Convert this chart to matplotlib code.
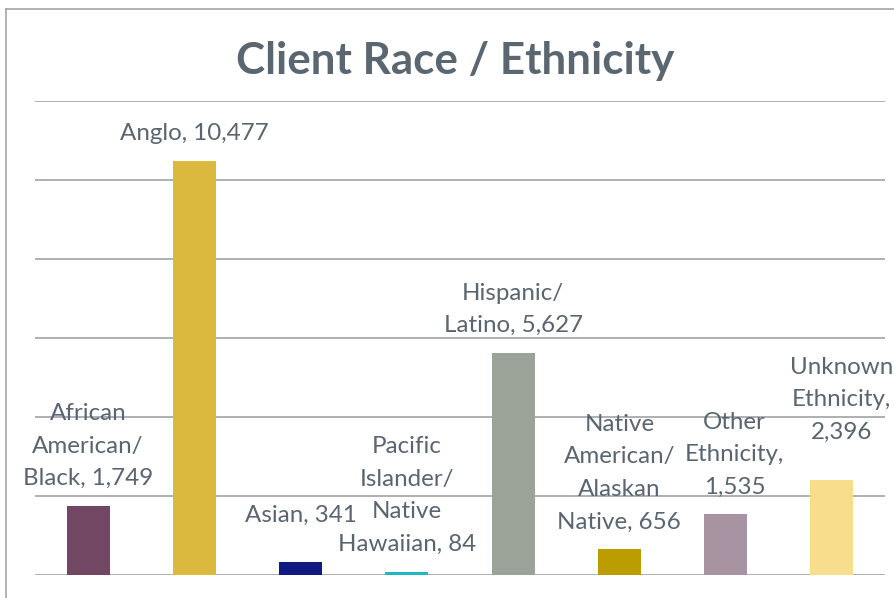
import matplotlib
matplotlib.use("Agg")
import matplotlib.pyplot as plt
from matplotlib.lines import Line2D

# Chart data
categories = [
    "African\nAmerican/\nBlack",
    "Anglo",
    "Asian",
    "Pacific\nIslander/\nNative\nHawaiian",
    "Hispanic/\nLatino",
    "Native\nAmerican/\nAlaskan\nNative",
    "Other\nEthnicity",
    "Unknown\nEthnicity",
]
# how each label joins name and value (Excel wrapped some differently)
label_joins = [", ", ", ", ", ", ", ", ", ", ", ", ",\n", ",\n"]
values = [1749, 10477, 341, 84, 5627, 656, 1535, 2396]
bar_colors = ["#724763", "#dbb93f", "#111a80", "#1fb8c0",
              "#9ba398", "#bc9d00", "#a893a3", "#f8dd8d"]
# label nudges in points (x, y above bar top)
label_dx = [0, 0, 0, 0, 0, 0, 6.5, 7]
label_dy = [12, 12, 26, 12, 12, 12, 12, 27]

text_color = "#5a6570"
grid_color = "#a7a9ac"

plt.rcParams["font.family"] = ["Lato", "DejaVu Sans"]

fig = plt.figure(figsize=(8.95, 5.98), dpi=100)
ax = fig.add_axes([35 / 895, 23 / 598, 850 / 895, 474 / 598])

x = range(len(values))
ax.bar(x, values, width=0.405, color=bar_colors, zorder=3)

ax.set_xlim(-0.5, len(values) - 0.5)
ax.set_ylim(0, 12000)
ax.set_yticks(range(0, 12001, 2000))
ax.set_xticks([])
ax.tick_params(left=False, labelleft=False)
ax.yaxis.grid(True, color=grid_color, linewidth=1.3, zorder=0)
for s in ax.spines.values():
    s.set_visible(False)

for i, (cat, v) in enumerate(zip(categories, values)):
    txt = f"{cat}{label_joins[i]}{v:,}"
    ax.annotate(txt, (i, v), xytext=(label_dx[i], label_dy[i]),
                textcoords="offset points", ha="center", va="bottom",
                fontsize=17.4, color=text_color, linespacing=1.68,
                zorder=4, annotation_clip=False)

fig.text(455 / 895, 1 - 61 / 598, "Client Race / Ethnicity",
         ha="center", va="center", fontsize=31.7, fontweight="bold",
         color="#5b6770")

# chart border (cropped at right and bottom)
fig.add_artist(Line2D([6 / 895, 6 / 895], [0, 1 - 9 / 598],
                      transform=fig.transFigure, color="#a6a6a6", lw=1.2))
fig.add_artist(Line2D([6 / 895, 1], [1 - 9 / 598, 1 - 9 / 598],
                      transform=fig.transFigure, color="#a6a6a6", lw=1.2))

fig.savefig("out.png", dpi=100)
